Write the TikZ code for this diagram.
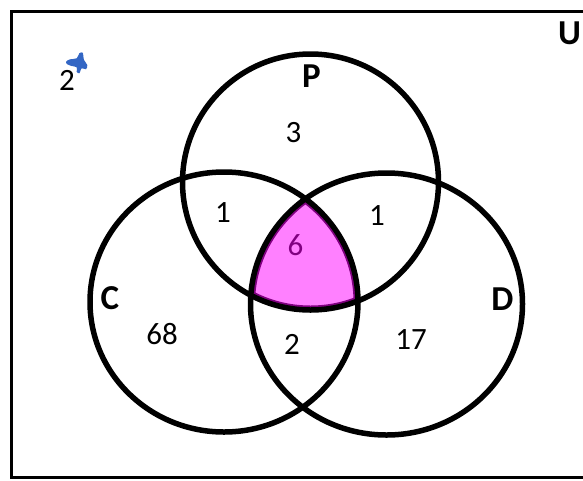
\documentclass[tikz,border=0pt]{standalone}
\usepackage{fontspec}
\setmainfont{Carlito}
\definecolor{rosa}{HTML}{FF80FF}
\definecolor{morado}{HTML}{800080}
\definecolor{azul}{HTML}{3366C4}

\begin{document}
\begin{tikzpicture}[
    x=1pt, y=-1pt,
    % Definición global de estilos
    conjunto/.style = {draw=black, line width=5.5pt},
    borde/.style = {draw=morado, line width=9pt},
    marco/.style = {draw=black, line width=3pt},
    numero/.style = {font=\fontsize{31}{31}\selectfont, inner sep=0pt},
    etiqueta/.style = {font=\fontsize{35}{35}\selectfont\bfseries, inner sep=0pt}
]
\useasboundingbox (0,0) rectangle (583,480);

% ===============================
% 1. Universo y centros
% ===============================
\draw [marco] (600,11) -- (11,11) -- (11,477) -- (600,477);

\coordinate (cP) at (310.5,182);
\coordinate (cC) at (224,302);
\coordinate (cD) at (386.5,304);

% ===============================
% 2. Intersección sombreada
% ===============================
\begin{scope}
    \clip (cP) ellipse [x radius=128pt, y radius=128pt];
    \clip (cC) ellipse [x radius=134pt, y radius=130pt];
    \clip (cD) ellipse [x radius=136pt, y radius=131pt];
    \fill [rosa] (150,150) rectangle (450,350);
    \draw [borde] (cP) ellipse [x radius=128pt, y radius=128pt];
    \draw [borde] (cC) ellipse [x radius=134pt, y radius=130pt];
    \draw [borde] (cD) ellipse [x radius=136pt, y radius=131pt];
\end{scope}

% ===============================
% 3. Conjuntos P, C y D
% ===============================
\draw [conjunto] (cP) ellipse [x radius=128pt, y radius=128pt];
\draw [conjunto] (cC) ellipse [x radius=134pt, y radius=130pt];
\draw [conjunto] (cD) ellipse [x radius=136pt, y radius=131pt];

% ===============================
% 4. Etiquetas y cardinales
% ===============================
\node (u) [etiqueta] at (569.5,33) {U};
\node (p) [etiqueta] at (311.5,76) {P};
\node (c) [etiqueta] at (110,298) {C};
\node (d) [etiqueta] at (502.5,299) {D};

\node (fuera) [numero] at (67,80.5) {2};
\node (soloP) [numero] at (293.5,133) {3};
\node (cp) [numero] at (223,213) {1};
\node (pd) [numero] at (377,216) {1};
\node (cpd) [numero, text=morado] at (295.5,245) {6};
\node (soloC) [numero] at (162,334) {68};
\node (cd) [numero] at (292,344) {2};
\node (soloD) [numero] at (411,340) {17};

% marca azul
\fill [azul] plot [smooth cycle] coordinates {(66,61.7) (70,59.3) (76.7,58.3) (79.3,53.3) (82.7,52.7) (84,60) (87.3,65) (86,69.3) (81.7,68.3) (79.3,73.3) (76.7,71.7) (76.7,67.3) (71.7,66) (67.3,64.3)};

\end{tikzpicture}
\end{document}
